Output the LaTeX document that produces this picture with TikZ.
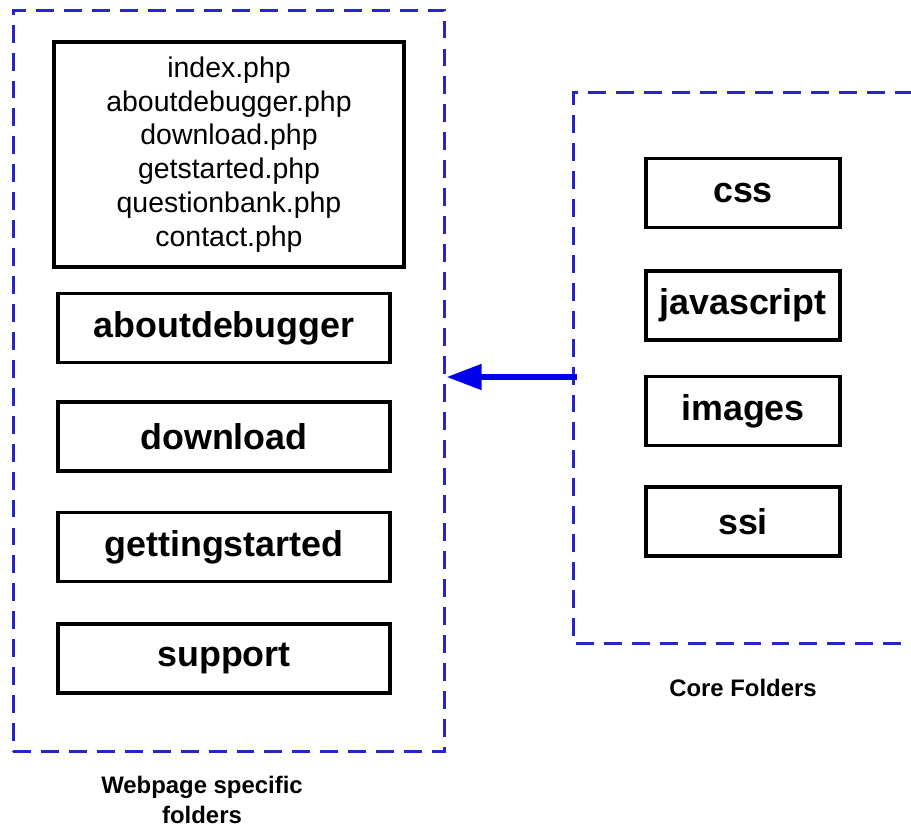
\documentclass[tikz,border=0pt]{standalone}
\usepackage{fontspec}
\setmainfont{Liberation Sans}
\usetikzlibrary{arrows.meta}
\definecolor{dashblue}{RGB}{38,38,200}
\definecolor{arrowblue}{RGB}{0,0,235}
\begin{document}
\begin{tikzpicture}[x=0.02cm,y=-0.02cm]
\tikzset{
  container/.style={draw=dashblue,line width=1.7pt,dash pattern=on 10.2pt off 5.7pt},
  folder/.style={rectangle,draw,line width=2pt,minimum height=1.38cm,inner sep=0pt,font=\fontsize{20.4}{24}\selectfont\bfseries},
  leftfolder/.style={folder,minimum width=6.64cm},
  rightfolder/.style={folder,minimum width=3.88cm},
  caption/.style={align=center,font=\fontsize{13.6}{17}\selectfont\bfseries},
  flowarrow/.style={-{Triangle[length=20pt,width=14pt]},draw=arrowblue,line width=3.4pt}
}
\useasboundingbox (0,0) rectangle (911,826);
\node[container,rectangle,minimum width=8.64cm,minimum height=14.84cm,inner sep=0pt] (n_web) at (229,381) {};
\draw[container] (913,92) -| (573,643) -- (913,643);
\coordinate (n_core) at (577,377);
\node[rectangle,draw,line width=2pt,minimum width=7cm,minimum height=4.5cm,align=center,inner sep=0pt,
  font=\fontsize{16.2}{19.3}\selectfont] (n_pages) at (229,154.5)
  {index.php\\aboutdebugger.php\\download.php\\getstarted.php\\questionbank.php\\contact.php};
\node[leftfolder] (n_about) at (224,328) {aboutdebugger};
\node[leftfolder] (n_download) at (224,436.5) {download};
\node[leftfolder] (n_started) at (224,547) {gettingstarted};
\node[leftfolder] (n_support) at (224,658.5) {support};
\node[rightfolder] (n_css) at (743,193) {css};
\node[rightfolder] (n_js) at (743,305.5) {javascript};
\node[rightfolder] (n_images) at (743,411) {images};
\node[rightfolder] (n_ssi) at (743,521.5) {ssi};
\node[caption] (n_webcap) at (202,800) {Webpage specific\\folders};
\node[caption] (n_corecap) at (743,688) {Core Folders};
\draw[flowarrow] (n_core) -- (n_web.east |- n_core);
\end{tikzpicture}
\end{document}
